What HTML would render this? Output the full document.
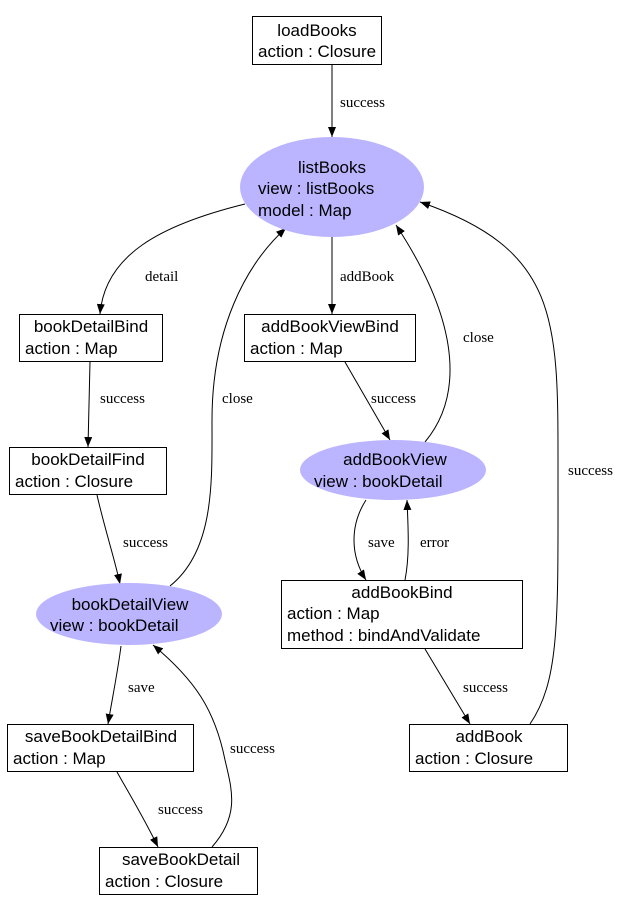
<!DOCTYPE html>
<html><head><style>
html,body{margin:0;padding:0;background:#fff;}
svg{display:block;}
.n{font-family:"Liberation Sans",sans-serif;font-size:17px;fill:#000;}
.l{font-family:"Liberation Serif",serif;font-size:15px;fill:#000;}
.b{fill:#fff;stroke:#000;stroke-width:1;}
.e{fill:#bbb4ff;stroke:none;}
.c{fill:none;stroke:#000;stroke-width:1;}
</style></head><body>
<svg width="639" height="911" viewBox="0 0 639 911" xmlns="http://www.w3.org/2000/svg">
<defs><marker id="a" markerWidth="10" markerHeight="8" refX="10" refY="4" orient="auto" markerUnits="userSpaceOnUse"><path d="M0,0 L10,4 L0,8 z" fill="#000"/></marker></defs>

<!-- edges -->
<path class="c" marker-end="url(#a)" d="M332,65 L332,137"/>
<text class="l" x="340" y="107">success</text>

<path class="c" marker-end="url(#a)" d="M245,204 C160,225 105,255 100,314"/>
<text class="l" x="145" y="281">detail</text>

<path class="c" marker-end="url(#a)" d="M332,237 L332,314"/>
<text class="l" x="340" y="281">addBook</text>

<path class="c" marker-end="url(#a)" d="M170,586 C215,550 212,480 212,420 C212,330 245,265 286,228"/>
<text class="l" x="222" y="403">close</text>

<path class="c" marker-end="url(#a)" d="M425,442 C460,400 465,330 396,225"/>
<text class="l" x="463" y="342">close</text>

<path class="c" marker-end="url(#a)" d="M530,724 C560,680 558,620 558,470 C558,320 560,250 420,202"/>
<text class="l" x="568" y="475">success</text>

<path class="c" marker-end="url(#a)" d="M90,362 L88,447"/>
<text class="l" x="100" y="403">success</text>

<path class="c" marker-end="url(#a)" d="M345,362 L390,440"/>
<text class="l" x="371" y="403">success</text>

<path class="c" marker-end="url(#a)" d="M97,495 C105,530 115,560 120,584"/>
<text class="l" x="123" y="547">success</text>

<path class="c" marker-end="url(#a)" d="M366,500 C350,525 350,555 366,580"/>
<text class="l" x="368" y="547">save</text>

<path class="c" marker-end="url(#a)" d="M405,580 C410,555 408,525 407,500"/>
<text class="l" x="420" y="547">error</text>

<path class="c" marker-end="url(#a)" d="M121,646 C118,670 112,700 108,724"/>
<text class="l" x="128" y="692">save</text>

<path class="c" marker-end="url(#a)" d="M117,772 C130,795 145,820 158,847"/>
<text class="l" x="158" y="814">success</text>

<path class="c" marker-end="url(#a)" d="M212,847 C240,815 232,790 225,760 C215,710 195,680 153,645"/>
<text class="l" x="230" y="753">success</text>

<path class="c" marker-end="url(#a)" d="M425,649 L470,724"/>
<text class="l" x="463" y="692">success</text>

<!-- nodes -->
<rect class="b" x="252.5" y="16.5" width="129" height="48"/>
<text class="n" x="317" y="36" text-anchor="middle">loadBooks</text>
<text class="n" x="258" y="57">action : Closure</text>

<ellipse class="e" cx="332" cy="187" rx="92" ry="50"/>
<text class="n" x="332" y="173" text-anchor="middle">listBooks</text>
<text class="n" x="258" y="194">view : listBooks</text>
<text class="n" x="258" y="216">model : Map</text>

<rect class="b" x="19.5" y="314.5" width="143" height="47"/>
<text class="n" x="91" y="332" text-anchor="middle">bookDetailBind</text>
<text class="n" x="25" y="354">action : Map</text>

<rect class="b" x="244.5" y="314.5" width="171" height="47"/>
<text class="n" x="330" y="332" text-anchor="middle">addBookViewBind</text>
<text class="n" x="250" y="354">action : Map</text>

<rect class="b" x="9.5" y="447.5" width="157" height="47"/>
<text class="n" x="88" y="465" text-anchor="middle">bookDetailFind</text>
<text class="n" x="15" y="487">action : Closure</text>

<ellipse class="e" cx="393" cy="470" rx="93" ry="30"/>
<text class="n" x="395" y="465" text-anchor="middle">addBookView</text>
<text class="n" x="314" y="487">view : bookDetail</text>

<ellipse class="e" cx="129" cy="614" rx="93" ry="31"/>
<text class="n" x="130" y="610" text-anchor="middle">bookDetailView</text>
<text class="n" x="50" y="631">view : bookDetail</text>

<rect class="b" x="281.5" y="580.5" width="241" height="68"/>
<text class="n" x="402" y="598" text-anchor="middle">addBookBind</text>
<text class="n" x="287" y="619">action : Map</text>
<text class="n" x="287" y="641">method : bindAndValidate</text>

<rect class="b" x="7.5" y="724.5" width="186" height="47"/>
<text class="n" x="101" y="742" text-anchor="middle">saveBookDetailBind</text>
<text class="n" x="13" y="764">action : Map</text>

<rect class="b" x="409.5" y="724.5" width="158" height="47"/>
<text class="n" x="489" y="742" text-anchor="middle">addBook</text>
<text class="n" x="415" y="764">action : Closure</text>

<rect class="b" x="99.5" y="847.5" width="158" height="47"/>
<text class="n" x="181" y="865" text-anchor="middle">saveBookDetail</text>
<text class="n" x="105" y="887">action : Closure</text>
</svg>
</body></html>
